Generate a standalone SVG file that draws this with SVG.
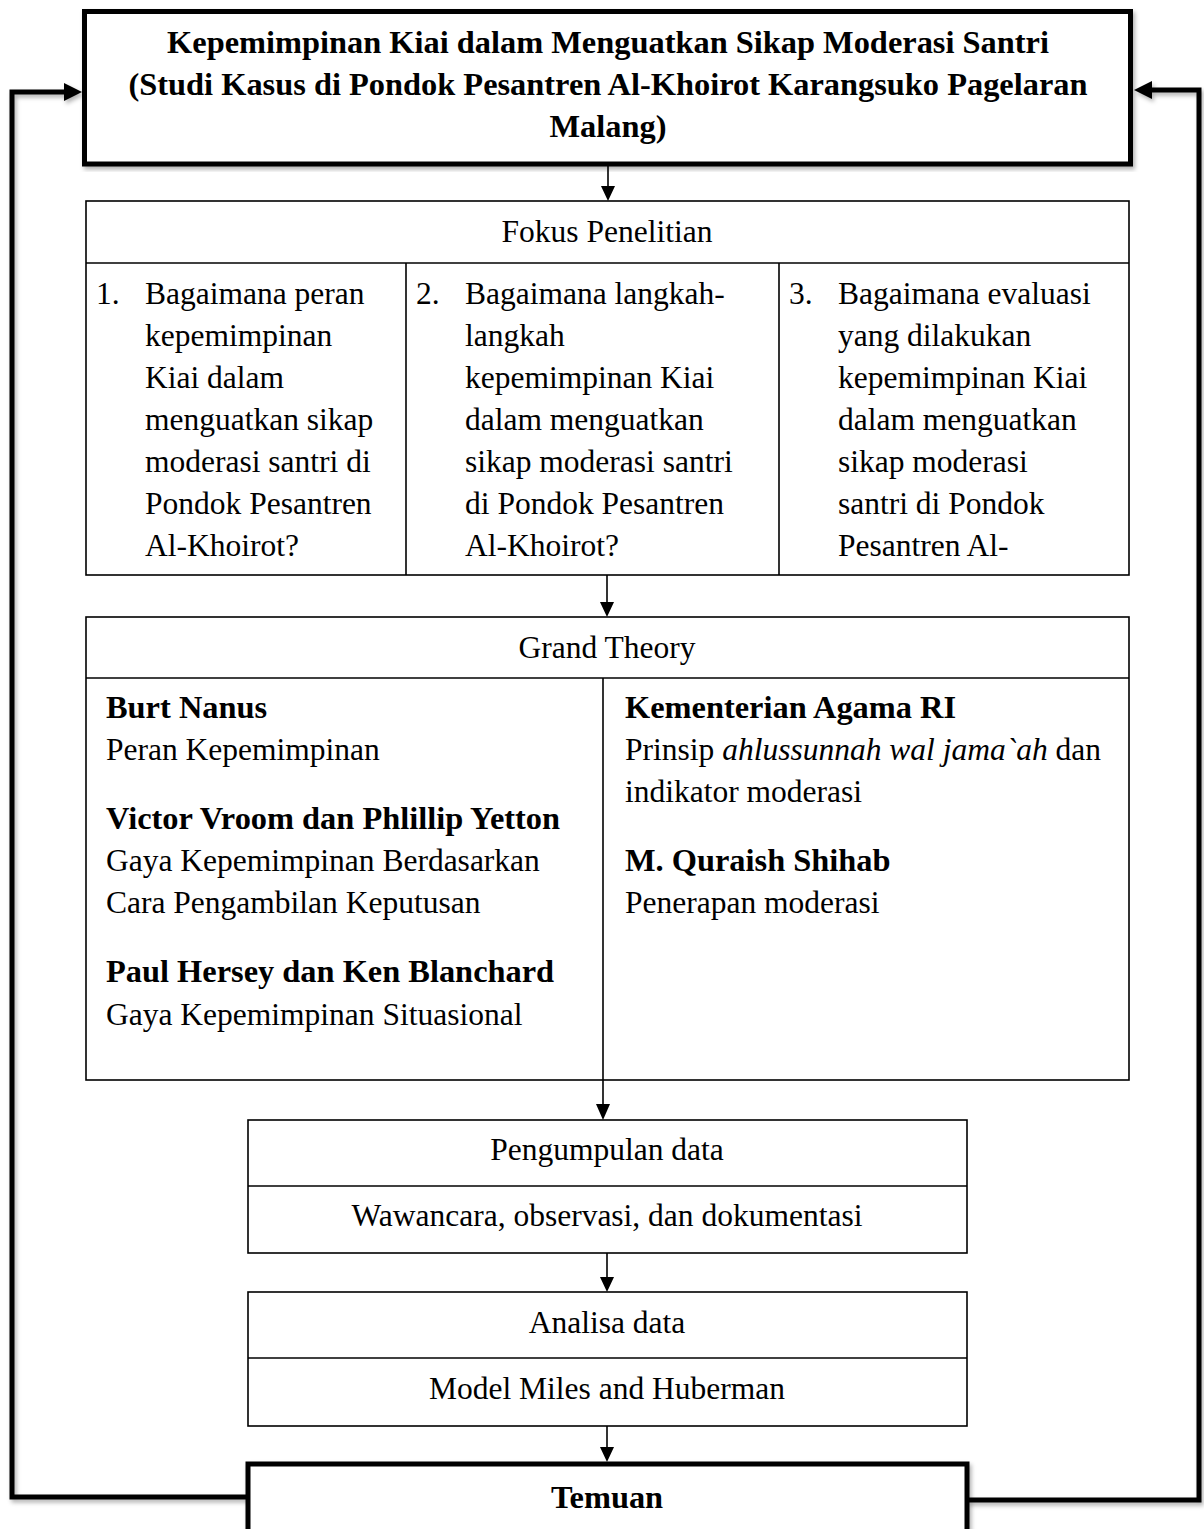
<svg xmlns="http://www.w3.org/2000/svg" width="1204" height="1529" viewBox="0 0 1204 1529">
<style>
text{font-family:"Liberation Serif","Times New Roman",serif;font-size:31.5px;fill:#000}
.b{font-weight:bold;font-size:32.4px}
.c{text-anchor:middle}
.box{fill:#fff;stroke:#000;stroke-width:1.6}
.thick{fill:#fff;stroke:#000;stroke-width:5}
.ln{stroke:#000;stroke-width:1.6;fill:none}
.loop{stroke:#000;stroke-width:5;fill:none}
</style>
<defs>
<filter id="sh" x="-5%" y="-5%" width="110%" height="110%">
<feDropShadow dx="2" dy="3" stdDeviation="2" flood-color="#000" flood-opacity="0.3"/>
</filter>
</defs>
<g id="connectors">
<g filter="url(#sh)">
<polyline class="loop" points="248,1497 12,1497 12,92 66,92"/>
<polygon points="64,83 82,92 64,101" fill="#000"/>
<polyline class="loop" points="967,1500 1199,1500 1199,90 1150,90"/>
<polygon points="1152,81 1134,90 1152,99" fill="#000"/>
</g>
<line class="ln" x1="608" y1="166" x2="608" y2="188"/>
<polygon points="601,186 615,186 608,201" fill="#000"/>
<line class="ln" x1="607" y1="575" x2="607" y2="603"/>
<polygon points="600,602 614,602 607,617" fill="#000"/>
<line class="ln" x1="603" y1="1080" x2="603" y2="1106"/>
<polygon points="596,1104 610,1104 603,1120" fill="#000"/>
<line class="ln" x1="607" y1="1253" x2="607" y2="1279"/>
<polygon points="600,1277 614,1277 607,1292" fill="#000"/>
<line class="ln" x1="607" y1="1426" x2="607" y2="1449"/>
<polygon points="600,1447 614,1447 607,1462" fill="#000"/>
</g>
<g id="title">
<rect class="thick" x="84.5" y="11.5" width="1046" height="152.5" filter="url(#sh)"/>
<text class="b c" x="608" y="53">Kepemimpinan Kiai dalam Menguatkan Sikap Moderasi Santri</text>
<text class="b c" x="608" y="95">(Studi Kasus di Pondok Pesantren Al-Khoirot Karangsuko Pagelaran</text>
<text class="b c" x="608" y="137">Malang)</text>
</g>
<g id="fokus">
<rect class="box" x="86" y="201" width="1043" height="374"/>
<line class="ln" x1="86" y1="263" x2="1129" y2="263"/>
<line class="ln" x1="406" y1="263" x2="406" y2="575"/>
<line class="ln" x1="779" y1="263" x2="779" y2="575"/>
<text class="c" x="607" y="242">Fokus Penelitian</text>
<text x="96" y="304">1.</text>
<text x="145" y="304">Bagaimana peran</text>
<text x="145" y="346">kepemimpinan</text>
<text x="145" y="388">Kiai dalam</text>
<text x="145" y="430">menguatkan sikap</text>
<text x="145" y="472">moderasi santri di</text>
<text x="145" y="514">Pondok Pesantren</text>
<text x="145" y="556">Al-Khoirot?</text>
<text x="416" y="304">2.</text>
<text x="465" y="304">Bagaimana langkah-</text>
<text x="465" y="346">langkah</text>
<text x="465" y="388">kepemimpinan Kiai</text>
<text x="465" y="430">dalam menguatkan</text>
<text x="465" y="472">sikap moderasi santri</text>
<text x="465" y="514">di Pondok Pesantren</text>
<text x="465" y="556">Al-Khoirot?</text>
<text x="789" y="304">3.</text>
<text x="838" y="304">Bagaimana evaluasi</text>
<text x="838" y="346">yang dilakukan</text>
<text x="838" y="388">kepemimpinan Kiai</text>
<text x="838" y="430">dalam menguatkan</text>
<text x="838" y="472">sikap moderasi</text>
<text x="838" y="514">santri di Pondok</text>
<text x="838" y="556">Pesantren Al-</text>
</g>
<g id="grand-theory">
<rect class="box" x="86" y="617" width="1043" height="463"/>
<line class="ln" x1="86" y1="678" x2="1129" y2="678"/>
<line class="ln" x1="603" y1="678" x2="603" y2="1080"/>
<text class="c" x="607" y="658">Grand Theory</text>
<text class="b" x="106" y="718">Burt Nanus</text>
<text x="106" y="760">Peran Kepemimpinan</text>
<text class="b" x="106" y="829">Victor Vroom dan Phlillip Yetton</text>
<text x="106" y="871">Gaya Kepemimpinan Berdasarkan</text>
<text x="106" y="913">Cara Pengambilan Keputusan</text>
<text class="b" x="106" y="982">Paul Hersey dan Ken Blanchard</text>
<text x="106" y="1025">Gaya Kepemimpinan Situasional</text>
<text class="b" x="625" y="718">Kementerian Agama RI</text>
<text x="625" y="760">Prinsip <tspan font-style="italic">ahlussunnah wal jama`ah</tspan> dan</text>
<text x="625" y="802">indikator moderasi</text>
<text class="b" x="625" y="871">M. Quraish Shihab</text>
<text x="625" y="913">Penerapan moderasi</text>
</g>
<g id="pengumpulan">
<rect class="box" x="248" y="1120" width="719" height="133"/>
<line class="ln" x1="248" y1="1186" x2="967" y2="1186"/>
<text class="c" x="607" y="1160">Pengumpulan data</text>
<text class="c" x="607" y="1226">Wawancara, observasi, dan dokumentasi</text>
</g>
<g id="analisa">
<rect class="box" x="248" y="1292" width="719" height="134"/>
<line class="ln" x1="248" y1="1358" x2="967" y2="1358"/>
<text class="c" x="607" y="1333">Analisa data</text>
<text class="c" x="607" y="1399">Model Miles and Huberman</text>
</g>
<g id="temuan">
<rect class="thick" x="248" y="1464" width="719" height="90" filter="url(#sh)"/>
<text class="b c" x="607" y="1508">Temuan</text>
</g>
</svg>
